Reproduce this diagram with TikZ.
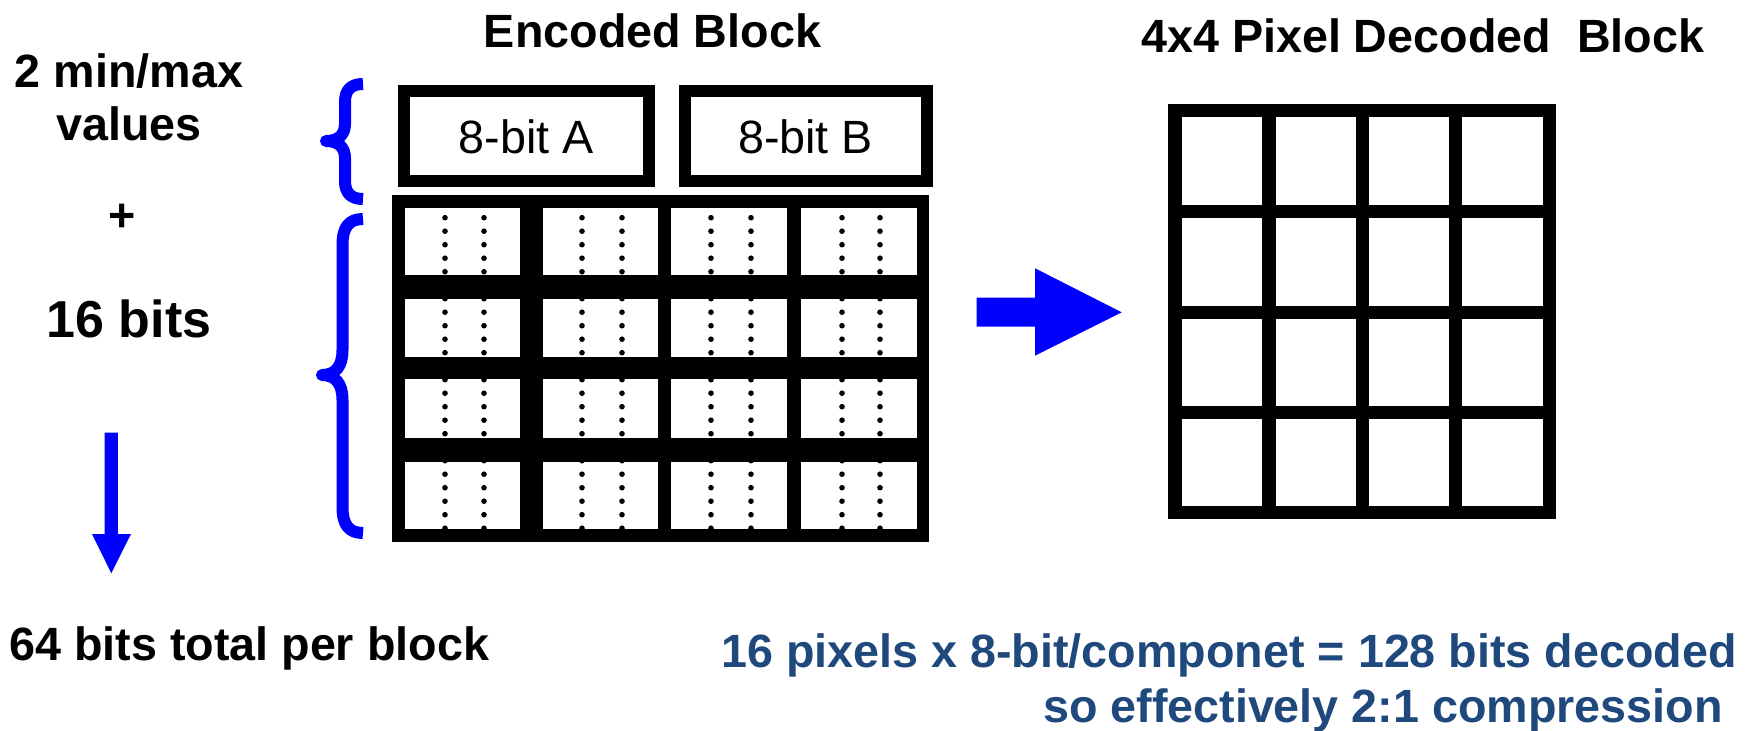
\documentclass[tikz,border=0pt]{standalone}
\usepackage{fontspec}
\setmainfont{Liberation Sans}
\definecolor{navytxt}{RGB}{31,73,125}
\begin{document}
\begin{tikzpicture}[x=0.75pt,y=-0.75pt,
  txt/.style={font=\fontsize{35}{42}\selectfont\bfseries, inner sep=0pt},
  bigtxt/.style={font=\fontsize{39}{46}\selectfont\bfseries, inner sep=0pt},
  boxtxt/.style={font=\fontsize{35}{42}\selectfont, inner sep=0pt},
  thickbox/.style={draw=black, line width=9pt},
  bluebrace/.style={draw=blue, line width=9pt, line join=round},
  blockarrow/.style={fill=blue},
  gridline/.style={draw=black, line width=10pt}]
\useasboundingbox (0,0) rectangle (1756,731);
\fill[white] (0,0) rectangle (1756,731);

% titles
\node[txt, anchor=base] (enc) at (652.5,47.5) {Encoded Block};
\node[txt, anchor=base west] (dec) at (1141,52.7) {4x4 Pixel Decoded\ \ Block};

% left labels
\node[txt, anchor=base] (minmax) at (129,87.7) {2 min/max};
\node[txt, anchor=base] (values) at (129,140.5) {values};
\node[txt] (plus) at (122.5,217.5) {+};
\node[bigtxt, anchor=base] (bits16) at (129,337) {16 bits};
\node[txt, anchor=base west] (total) at (9,660.7) {64 bits total per block};

% blue summary text
\node[txt, text=navytxt, anchor=base east] (sum1) at (1737,667) {16 pixels x 8-bit/componet = 128 bits decoded};
\node[txt, text=navytxt, anchor=base east] (sum2) at (1723,722) {so effectively 2:1 compression};

% A and B boxes
\draw[thickbox] (404,91) rectangle (648.5,181.5);
\node[boxtxt] (A) at (526.25,137) {8-bit A};
\draw[thickbox] (684.5,91) rectangle (926.5,181.5);
\node[boxtxt] (B) at (805.5,137) {8-bit B};

% encoded grid
\fill[black] (392,195) rectangle (929,542);
\foreach \xa/\xb in {405/520,543/658,671/787,801/917}
  \foreach \ya/\yb in {208/275,299/357,379/438,462/529}
    \fill[white] (\xa,\ya) rectangle (\xb,\yb);
\begin{scope}
  \clip (405,208) rectangle (520,275) (543,208) rectangle (658,275) (671,208) rectangle (787,275) (801,208) rectangle (917,275)
        (405,299) rectangle (520,357) (543,299) rectangle (658,357) (671,299) rectangle (787,357) (801,299) rectangle (917,357)
        (405,379) rectangle (520,438) (543,379) rectangle (658,438) (671,379) rectangle (787,438) (801,379) rectangle (917,438)
        (405,462) rectangle (520,529) (543,462) rectangle (658,529) (671,462) rectangle (787,529) (801,462) rectangle (917,529);
  \foreach \dx in {445,484,582,622,711,751,842,880}
    \foreach \k in {0,...,23}
      \fill[black] (\dx,217.7+13.5*\k) circle[radius=2.1pt];
\end{scope}

% braces
\draw[bluebrace] (363,84) .. controls (351,84) and (345,90) .. (345,102) -- (345,124)
  .. controls (345,135) and (338,141) .. (326,141)
  .. controls (338,141) and (345,147) .. (345,158) -- (345,181)
  .. controls (345,193) and (351,199) .. (363,199);
\draw[bluebrace] (363,219) .. controls (349,219) and (342.5,227) .. (342.5,245) -- (342.5,350)
  .. controls (342.5,367) and (335,375) .. (322,375)
  .. controls (335,375) and (342.5,383) .. (342.5,400) -- (342.5,507)
  .. controls (342.5,525) and (349,533) .. (363,533);

% down arrow
\fill[blockarrow] (104.6,432.7) -- (117.9,432.7) -- (117.9,534) -- (131,534) -- (111.3,573.3) -- (92,534) -- (104.6,534) -- cycle;

% right arrow
\fill[blockarrow] (976.7,297.7) -- (1035,297.7) -- (1035,268.3) -- (1121.7,312.3) -- (1035,355.7) -- (1035,326.7) -- (976.7,326.7) -- cycle;

% decoded grid
\draw[gridline] (1175,110.7) rectangle (1549.3,512.8);
\foreach \gx in {1269,1362.5,1455.5}
  \draw[gridline] (\gx,110.7) -- (\gx,512.8);
\foreach \gy in {211.7,312.3,412.7}
  \draw[gridline] (1175,\gy) -- (1549.3,\gy);
\end{tikzpicture}
\end{document}
